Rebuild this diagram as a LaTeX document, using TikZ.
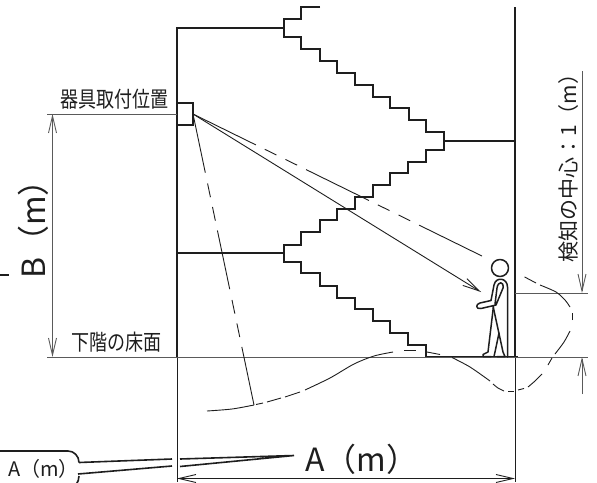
\documentclass[tikz,border=0pt]{standalone}
\usepackage{fontspec}
\setmainfont{Noto Sans CJK JP}
\usetikzlibrary{arrows.meta}
\definecolor{ink}{HTML}{1E1E1E}
\definecolor{dimcol}{HTML}{5A5A5A}
\tikzset{
  wall/.style={draw=ink,line width=1.9pt},
  stairline/.style={draw=ink,line width=1.6pt,line join=miter},
  thin line/.style={draw=ink,line width=1pt},
  dimline/.style={draw=dimcol,line width=1pt},
  beam/.style={draw=ink,line width=0.9pt},
  beamdash/.style={beam,dash pattern=on 70pt off 10pt on 13pt off 10pt on 13pt off 10pt},
  beamdashb/.style={beam,dash pattern=on 60pt off 11pt on 14pt off 10pt on 14pt off 10pt},
  zone/.style={draw=ink,line width=0.9pt},
  person/.style={draw=ink,line width=1.5pt,line join=round,line cap=round},
  label/.style={inner sep=0pt,text=ink,font=\fontsize{22}{22}\selectfont,xscale=.82},
  bigtext/.style={inner sep=0pt,text=ink,font=\fontsize{32}{32}\selectfont},
  leader/.style={draw=ink,line width=1.6pt},
}
\begin{document}
\begin{tikzpicture}[x=1pt,y=-1pt,>={Straight Barb[length=17pt,width=8pt,line width=0.9pt]}]
\useasboundingbox (0,0) rectangle (597,482);
% named points
\coordinate (sensor) at (193,114);
\coordinate (tip) at (481,292);
\coordinate (dashend) at (486,258);
\coordinate (steepend) at (254,405);
\coordinate (floorL) at (47,357);
\coordinate (floorR) at (588,357);
\coordinate (mountL) at (47,114);
\coordinate (mountR) at (177,114);
\coordinate (bTop) at (52.5,114);
\coordinate (bBot) at (52.5,357);
\coordinate (aL) at (177,478.5);
\coordinate (aR) at (515,478.5);
\coordinate (cTop) at (582,71);
\coordinate (cMid) at (582,293);
\coordinate (cFloor) at (582,357);
\coordinate (cBot) at (582,394);
\coordinate (wallR) at (515,293);
\coordinate (cMidR) at (588,293);
\coordinate (apex) at (294,455.5);
% walls
\draw[thin line] (177,357) -- (177,482);
\draw[thin line] (515,357) -- (515,482);
\draw[wall] (284,28) -- (177,28) -- (177,357);
\draw[wall] (515,7) -- (515,357);
\draw[wall] (177,253) -- (284,253);
\draw[wall] (444,141) -- (515,141);
\draw[wall] (426,357) -- (518,357);
% sensor box
\draw[wall] (177,103) -- (193,103) -- (193,125) -- (177,125);
% stairs
\draw[stairline] (320,7) -- (301,7) -- (301,19) -- (284,19) -- (284,37) -- (301,37) -- (301,49) -- (320,49) -- (320,61) -- (337,61) -- (337,73) -- (355,73) -- (355,85) -- (373,85) -- (373,97) -- (390,97) -- (390,108) -- (409,108) -- (409,120) -- (426,120) -- (426,132) -- (444,132) -- (444,150) -- (426,150) -- (426,162) -- (408,162) -- (408,173) -- (390,173) -- (390,185) -- (373,185) -- (373,197) -- (355,197) -- (355,209) -- (337,209) -- (337,220) -- (320,220) -- (320,232) -- (301,232) -- (301,245) -- (284,245) -- (284,262) -- (301,262) -- (301,273) -- (320,273) -- (320,286) -- (337,286) -- (337,298) -- (355,298) -- (355,309) -- (373,309) -- (373,321) -- (390,321) -- (390,333) -- (408,333) -- (408,345) -- (426,345) -- (426,357);
% reference lines
\draw[dimline] (floorL) -- (floorR);
\draw[dimline] (mountL) -- (mountR);
\draw[dimline] (wallR) -- (cMidR);
\draw[dimline,<->] (bTop) -- (bBot);
\draw[thin line,<->] (aL) -- (aR);
\draw[dimline,->] (cTop) -- (cMid);
\draw[dimline,->] (cBot) -- (cFloor);
% beams
\draw[beam,->] (sensor) -- (tip);
\draw[beamdash] (sensor) -- (dashend);
\draw[beamdashb] (sensor) -- (steepend);
% detection zone
\draw[zone] plot[smooth] coordinates {(207,411) (232,409) (254,405)};
\draw[zone] (256,404.5) -- (263,403);
\draw[zone] (267,402) -- (281,398);
\draw[zone] (285,397) -- (300,392);
\draw[zone] plot[smooth] coordinates {(305,390) (330,378) (354,364) (374,356) (393,352)};
\draw[zone] (404,350.5) -- (416,350.5);
\draw[zone] (427,352) -- (440,354.5);
\draw[zone] plot[smooth] coordinates {(452,357.5) (470,367) (490,381)};
\draw[zone] plot[smooth] coordinates {(493,384) (498,388) (504,391)};
\draw[zone] (508,391.5) -- (514,391.5);
\draw[zone] (518,390) -- (524,388.5);
\draw[zone] plot[smooth] coordinates {(528,387) (535,381) (542,374)};
\draw[zone] (548,365) -- (552,358);
\draw[zone] plot[smooth] coordinates {(555,354) (564,342) (570,331)};
\draw[zone] (572,320) -- (572,313);
\draw[zone] plot[smooth] coordinates {(570,307) (565,300) (556,292) (540,285)};
\draw[zone,dash pattern=on 13pt off 7pt] (536,283) -- (519,274);
% person
\draw[person] (500,268) circle (8.5);
\draw[person] (507.5,357) -- (507.5,287) .. controls (507.5,278) and (496,276) .. (494,285) -- (491,300.5) -- (480,303) .. controls (475.5,304) and (475.5,309.5) .. (481,308.5) -- (496,305) -- (503,288) .. controls (504,281) and (498,281) .. (497,288) -- (495,304);
\draw[person] (493.5,306) -- (488,352) -- (483,354.5) -- (483,356.5) -- (491,356.5);
\draw[person] (493,306) -- (503,352) -- (505,356.5) -- (497,356.5);
\draw[person] (499,333) -- (495,352) -- (494,356.5);
% callout
\draw[leader] (-5,451) -- (68,451) .. controls (74,451) and (79,456) .. (79,462.5);
\draw[leader] (79,476) .. controls (79,479) and (78,482) .. (76,485);
\coordinate (cA) at (79,462.5);
\coordinate (cB) at (78,474);
\coordinate (gapA) at (172,459);
\coordinate (gapB) at (172,466);
\coordinate (gapC) at (180,459);
\coordinate (gapD) at (180,466.5);
\draw[leader] (cA) -- (gapA);
\draw[leader] (cB) -- (gapB);
\draw[leader] (gapD) -- (apex) -- (gapC);
% stray mark at left edge
\draw[wall] (0,275) -- (8.5,275);
% texts
\node[label,anchor=base west] (mount) at (60,107.5) {器具取付位置};
\node[label,anchor=base west] (floorlabel) at (71,350.5) {下階の床面};
\node[bigtext,rotate=90,anchor=base west] (btext) at (45,279) {B（m）};
\node[bigtext,anchor=base west] (atext) at (305,471) {A（m）};
\node[inner sep=0pt,text=ink,font=\fontsize{20}{20}\selectfont,anchor=base west] (asmall) at (8,476) {A（m）};
\node[inner sep=0pt,text=ink,font=\fontsize{21}{21}\selectfont,rotate=90,anchor=base west] (detect) at (576,263) {検知の中心：1（m）};
\end{tikzpicture}
\end{document}
